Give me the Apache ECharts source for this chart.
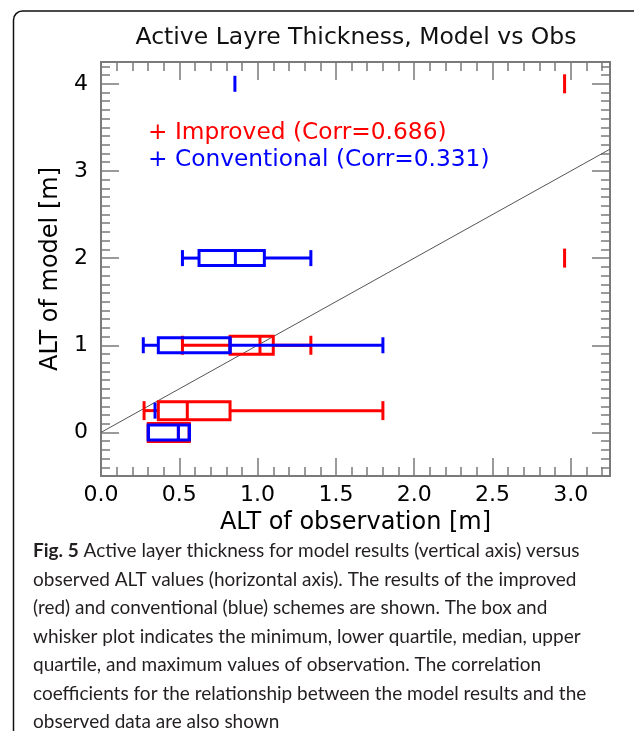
<!DOCTYPE html>
<html>
<head>
<meta charset="utf-8">
<script src="https://cdn.jsdelivr.net/npm/echarts@6/dist/echarts.min.js"></script>
<style>
  html, body { margin: 0; padding: 0; background: #fff; }
  #chart { width: 634px; height: 731px; }
</style>
</head>
<body>
<div id="chart"></div>
<script>
// ALT of model (vertical) and observed ALT stats (horizontal) per model value
var improvedModel = [4, 2, 1, 0.25, 0];
var improvedMin   = [2.96, 2.96, 0.52, 0.275, 0.302];
var improvedQ1    = [2.96, 2.96, 0.824, 0.366, 0.302];
var improvedMed   = [2.96, 2.96, 1.015, 0.551, 0.494];
var improvedQ3    = [2.96, 2.96, 1.10, 0.824, 0.564];
var improvedMax   = [2.96, 2.96, 1.34, 1.80, 0.564];

var conventionalModel = [4, 2, 1, 0.25, 0];
var conventionalMin   = [0.855, 0.52, 0.27, 0.345, 0.302];
var conventionalQ1    = [0.855, 0.626, 0.366, 0.345, 0.302];
var conventionalMed   = [0.855, 0.858, 0.824, 0.345, 0.494];
var conventionalQ3    = [0.855, 1.043, 0.824, 0.345, 0.564];
var conventionalMax   = [0.855, 1.34, 1.80, 0.345, 0.564];

// 1:1 reference line
var oneToOne = [[0, 0], [3.25, 3.25]];

// tick labels
var xMajor = [0, 0.5, 1, 1.5, 2, 2.5, 3];
var yMajor = [0, 1, 2, 3, 4];

var captionLines = [
  '{b|Fig. 5} Active layer thickness for model results (vertical axis) versus',
  'observed ALT values (horizontal axis). The results of the improved',
  '(red) and conventional (blue) schemes are shown. The box and',
  'whisker plot indicates the minimum, lower quartile, median, upper',
  'quartile, and maximum values of observation. The correlation',
  'coefficients for the relationship between the model results and the',
  'observed data are also shown'
];

function minorTicks(from, to) {
  var out = [];
  for (var i = Math.round(from * 10); i <= Math.round(to * 10); i++) out.push(i / 10);
  return out;
}

function buildRows(model, mn, q1, med, q3, mx) {
  var rows = [];
  for (var i = 0; i < model.length; i++) {
    rows.push([model[i], mn[i], q1[i], med[i], q3[i], mx[i]]);
  }
  return rows;
}

// horizontal box and whisker
function boxRenderer(color, half, capHalf) {
  return function (params, api) {
    var y = api.value(0);
    var pMin = api.coord([api.value(1), y]);
    var pQ1 = api.coord([api.value(2), y]);
    var pMed = api.coord([api.value(3), y]);
    var pQ3 = api.coord([api.value(4), y]);
    var pMax = api.coord([api.value(5), y]);
    var cy = pMin[1];
    var st = { stroke: color, lineWidth: 3, fill: null };
    var kids = [];
    if (api.value(1) === api.value(5)) {
      kids.push({ type: 'line', shape: { x1: pMin[0], y1: cy - capHalf, x2: pMin[0], y2: cy + capHalf }, style: st });
      return { type: 'group', children: kids };
    }
    kids.push({ type: 'line', shape: { x1: pMin[0], y1: cy, x2: pQ1[0], y2: cy }, style: st });
    kids.push({ type: 'line', shape: { x1: pQ3[0], y1: cy, x2: pMax[0], y2: cy }, style: st });
    kids.push({ type: 'line', shape: { x1: pMin[0], y1: cy - capHalf, x2: pMin[0], y2: cy + capHalf }, style: st });
    kids.push({ type: 'line', shape: { x1: pMax[0], y1: cy - capHalf, x2: pMax[0], y2: cy + capHalf }, style: st });
    kids.push({ type: 'rect', shape: { x: pQ1[0], y: cy - half, width: pQ3[0] - pQ1[0], height: half * 2 }, style: st });
    kids.push({ type: 'line', shape: { x1: pMed[0], y1: cy - half, x2: pMed[0], y2: cy + half }, style: st });
    return { type: 'group', children: kids };
  };
}

var myChart = echarts.init(document.getElementById('chart'));

var axisGray = '#7a7a7a';
var labelFont = 'DejaVu Sans';

function xAx(pos, vals, len, labels) {
  return {
    type: 'value', position: pos, min: 0, max: 3.25,
    axisLine: { show: true, onZero: false, lineStyle: { color: axisGray, width: 2 } },
    axisTick: { show: true, inside: true, length: len, customValues: vals, lineStyle: { color: axisGray, width: 1.5 } },
    axisLabel: labels ? { show: true, customValues: xMajor, margin: 8, fontSize: 22, color: '#000', fontFamily: labelFont,
      formatter: function (v) { return v.toFixed(1); } } : { show: false },
    splitLine: { show: false },
    name: labels ? 'ALT of observation [m]' : '',
    nameLocation: 'middle', nameGap: 30,
    nameTextStyle: { fontSize: 24, color: '#000', fontFamily: labelFont }
  };
}

function yAx(pos, vals, len, labels) {
  return {
    type: 'value', position: pos, min: -0.5, max: 4.25,
    axisLine: { show: true, onZero: false, lineStyle: { color: axisGray, width: 2 } },
    axisTick: { show: true, inside: true, length: len, customValues: vals, lineStyle: { color: axisGray, width: 1.5 } },
    axisLabel: labels ? { show: true, customValues: yMajor, margin: 13, fontSize: 22, color: '#000', fontFamily: labelFont } : { show: false },
    splitLine: { show: false },
    name: labels ? 'ALT of model [m]' : '',
    nameLocation: 'middle', nameGap: 38,
    nameTextStyle: { fontSize: 24, color: '#000', fontFamily: labelFont }
  };
}

var xMinor = minorTicks(0, 3.2);
var yMinor = minorTicks(-0.4, 4.2);

myChart.setOption({
  animation: false,
  backgroundColor: '#fff',
  title: {
    text: 'Active Layre Thickness, Model vs Obs',
    left: 351, top: 21, textAlign: 'center',
    textStyle: { fontSize: 23.5, fontWeight: 'normal', color: '#111', fontFamily: labelFont }
  },
  grid: { left: 101, top: 62, right: 24, bottom: 255 },
  xAxis: [
    xAx('bottom', xMajor, 18, true),
    xAx('bottom', xMinor, 9, false),
    xAx('top', xMajor, 18, false),
    xAx('top', xMinor, 9, false)
  ],
  yAxis: [
    yAx('left', yMajor, 18, true),
    yAx('left', yMinor, 9, false),
    yAx('right', yMajor, 18, false),
    yAx('right', yMinor, 9, false)
  ],
  graphic: [
    {
      type: 'rect', silent: true,
      shape: { x: 13.5, y: 11, width: 660, height: 760, r: 9 },
      style: { fill: null, stroke: '#111', lineWidth: 1.5 }
    },
    {
      type: 'text', left: 148, top: 121,
      style: { text: '+ Improved (Corr=0.686)', fill: '#ff0000', fontSize: 23.3, fontFamily: labelFont }
    },
    {
      type: 'text', left: 148, top: 148,
      style: { text: '+ Conventional (Corr=0.331)', fill: '#0000ff', fontSize: 23.3, fontFamily: labelFont }
    },
    {
      type: 'text', left: 33, top: 537,
      style: {
        text: captionLines.join('\n'),
        fill: '#231f20', fontSize: 19, lineHeight: 28.5, fontFamily: 'Lato',
        rich: { b: { fontWeight: 'bold', fontSize: 19, lineHeight: 28.5, fontFamily: 'Lato', fill: '#231f20' } }
      }
    }
  ],
  series: [
    {
      type: 'line', name: '1:1', data: oneToOne, showSymbol: false, symbol: 'none',
      lineStyle: { color: '#555', width: 1 }, z: 1, silent: true
    },
    {
      type: 'custom', name: 'Improved',
      renderItem: boxRenderer('#ff0000', 9, 9.5),
      data: buildRows(improvedModel, improvedMin, improvedQ1, improvedMed, improvedQ3, improvedMax),
      encode: { x: [1, 2, 3, 4, 5], y: 0 }, z: 2, clip: false
    },
    {
      type: 'custom', name: 'Conventional',
      renderItem: boxRenderer('#0000ff', 7.5, 8),
      data: buildRows(conventionalModel, conventionalMin, conventionalQ1, conventionalMed, conventionalQ3, conventionalMax),
      encode: { x: [1, 2, 3, 4, 5], y: 0 }, z: 3, clip: false
    }
  ]
});
</script>
</body>
</html>
